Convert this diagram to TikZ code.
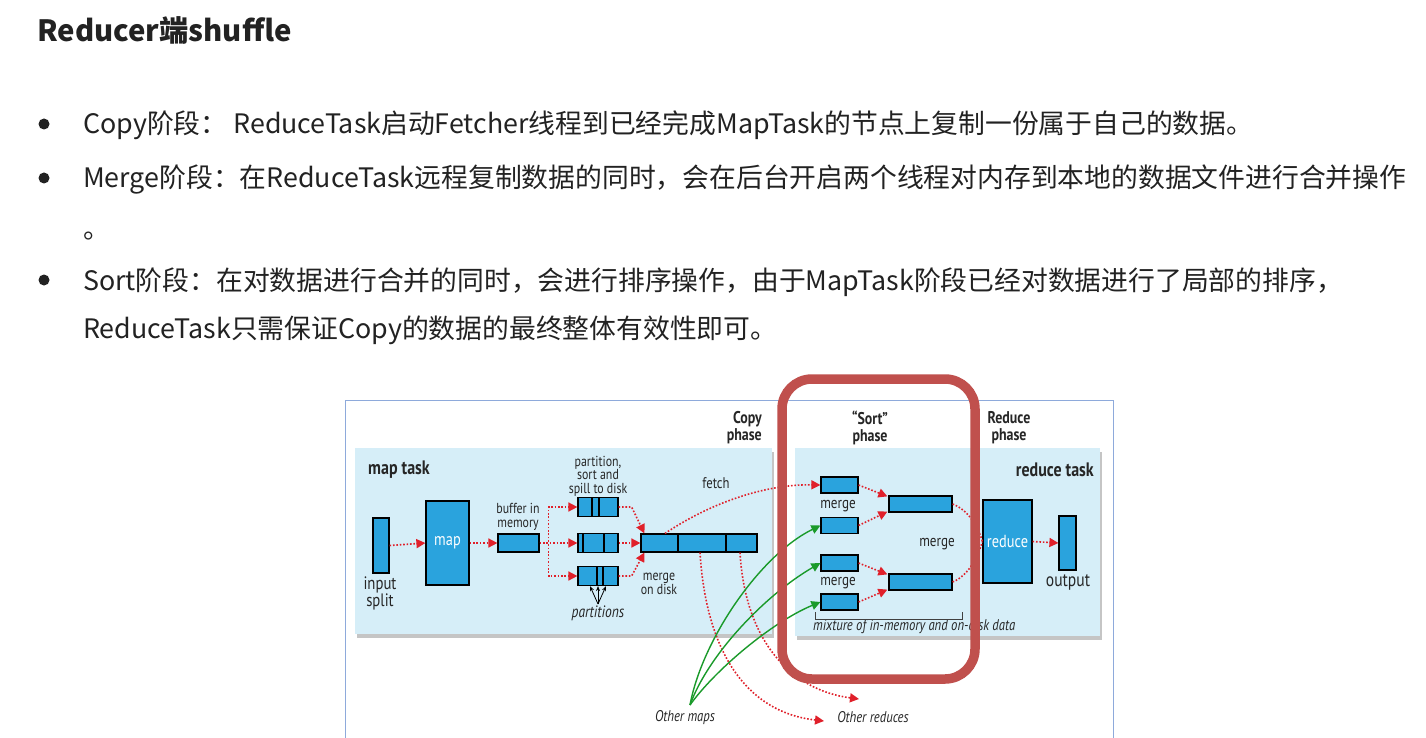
\documentclass[tikz,border=0pt]{standalone}
\usepackage{fontspec}
\usetikzlibrary{arrows.meta,shadows}
\newfontfamily\cjk{Noto Sans CJK SC}
\newfontfamily\dfont{PT Sans}[FakeStretch=0.82]
\definecolor{panel}{HTML}{D6EEF8}
\definecolor{boxc}{HTML}{2AA3DD}
\definecolor{arr}{HTML}{E0202A}
\definecolor{grn}{HTML}{1A9A2A}
\definecolor{hl}{HTML}{C0504D}
\definecolor{frame}{HTML}{8EAADB}
\definecolor{txt}{HTML}{222222}
\definecolor{dtxt}{HTML}{262626}
\tikzset{
  body/.style={font=\cjk\fontsize{26.8}{30}\selectfont, text=txt, inner sep=0, anchor=base west},
  blk/.style={draw=black, line width=1.2pt, fill=boxc, inner sep=0},
  dlab/.style={font=\dfont\fontsize{14.5}{13.5}\selectfont, text=dtxt, align=center, inner sep=0},
  dbold/.style={font=\dfont\bfseries\fontsize{17}{17}\selectfont, text=dtxt, align=center, inner sep=0},
  dtask/.style={font=\dfont\bfseries\fontsize{19.5}{19}\selectfont, text=dtxt, inner sep=0},
  dital/.style={font=\dfont\itshape\fontsize{15.5}{12}\selectfont, text=dtxt, inner sep=0},
  wlab/.style={font=\dfont\fontsize{17.5}{17}\selectfont, text=white, inner sep=0},
  rdot/.style={draw=arr, line width=1.6pt, dash pattern=on 1.6pt off 1.8pt},
  rarr/.style={rdot, -{Triangle[length=9pt,width=9pt]}},
  garr/.style={draw=grn, line width=1.4pt, -{Triangle[length=9pt,width=9pt]}},
}
\begin{document}
\begin{tikzpicture}[x=1pt,y=-1pt]
\useasboundingbox (0,0) rectangle (1426,738);
\fill[white] (0,0) rectangle (1426,738);
% ---- text ----
\node[font=\cjk\bfseries\fontsize{29.3}{30}\selectfont, text=txt, inner sep=0, anchor=base west] (title) at (37,42) {Reducer端shuffle};
\fill[txt] (44,124) circle (5.5);
\fill[txt] (44,178) circle (5.5);
\fill[txt] (44,280) circle (5.5);
\node[body] (l1) at (83,134) {Copy阶段： ReduceTask启动Fetcher线程到已经完成MapTask的节点上复制一份属于自己的数据。};
\node[body] (l2) at (83,188) {Merge阶段：在ReduceTask远程复制数据的同时，会在后台开启两个线程对内存到本地的数据文件进行合并操作};
\node[body] (l2b) at (83,238) {。};
\node[body] (l3) at (83,290) {Sort阶段：在对数据进行合并的同时，会进行排序操作，由于MapTask阶段已经对数据进行了局部的排序，};
\node[body] (l4) at (83,338) {ReduceTask只需保证Copy的数据的最终整体有效性即可。};
% ---- diagram frame & panels ----
\draw[frame, line width=1pt] (345,745) -- (345,400) -- (1113,400) -- (1113,745);
\fill[panel, drop shadow={opacity=0.45, shadow xshift=1.5pt, shadow yshift=-3.5pt}] (355,448) rectangle (772,634);
\fill[panel, drop shadow={opacity=0.45, shadow xshift=1.5pt, shadow yshift=-3.5pt}] (795,448) rectangle (1100,636);
% phase titles
\node[dbold, align=right, anchor=east] (copyph) at (762,428) {Copy\\phase};
\node[dbold] (sortph) at (870,428) {“Sort”\\phase};
\node[dbold] (redph) at (1009,428) {Reduce\\phase};
\node[dtask, anchor=west] (maptask) at (368,470) {map task};
\node[dtask, anchor=east] (redtask) at (1094,470) {reduce task};
% boxes
\node[blk, minimum width=16, minimum height=55] (input) at (381,545.5) {};
\node[blk, minimum width=43, minimum height=84] (map) at (447.5,543) {};
\node[wlab] at (map) {map};
\node[blk, minimum width=41, minimum height=18] (buf) at (518.5,543) {};
\node[blk, minimum width=40, minimum height=19] (sp1) at (598,507) {};
\node[blk, minimum width=40, minimum height=19] (sp2) at (598,543) {};
\node[blk, minimum width=40, minimum height=19] (sp3) at (598,576) {};
\draw[line width=1.2pt] (592,497.5) -- (592,516.5) (599,497.5) -- (599,516.5);
\draw[line width=1.2pt] (583,533.5) -- (583,552.5) (604,533.5) -- (604,552.5);
\draw[line width=1.2pt] (597,566.5) -- (597,585.5) (603,566.5) -- (603,585.5);
\node[blk, minimum width=116, minimum height=18] (mg) at (699,543) {};
\draw[line width=1.2pt] (678,534) -- (678,552) (726,534) -- (726,552);
\node[blk, minimum width=37, minimum height=16] (s1) at (839.5,485) {};
\node[blk, minimum width=37, minimum height=16] (s2) at (839.5,525.5) {};
\node[blk, minimum width=37, minimum height=16] (s3) at (839.5,563) {};
\node[blk, minimum width=37, minimum height=16] (s4) at (839.5,602) {};
\node[blk, minimum width=63, minimum height=16] (m1) at (920.5,504) {};
\node[blk, minimum width=63, minimum height=16] (m2) at (920.5,582) {};
\node[blk, minimum width=49, minimum height=83] (red) at (1007.5,541.5) {};
\node[wlab] at (red) {reduce};
\node[blk, minimum width=17, minimum height=54] (out) at (1067.5,543) {};
% labels
\node[dlab, font=\dfont\fontsize{18}{17}\selectfont] (inlab) at (380,593) {input\\split};
\node[dlab] (buflab) at (518,517) {buffer in\\memory};
\node[dlab] (splab) at (598,476) {partition,\\sort and\\spill to disk};
\node[dlab] (mdlab) at (659,584) {merge\\on disk};
\node[dital, font=\dfont\itshape\fontsize{16.5}{12}\selectfont] (partlab) at (598,613) {partitions};
\node[dlab, font=\dfont\fontsize{15.5}{14}\selectfont] (fetch) at (716,483) {fetch};
\node[dlab, font=\dfont\fontsize{16}{12}\selectfont] (mg1) at (838,506) {merge};
\node[dlab, font=\dfont\fontsize{16}{12}\selectfont] (mg2) at (838,583) {merge};
\node[dlab, font=\dfont\fontsize{16}{12}\selectfont] (mg3) at (937,544) {merge};
\node[dlab, font=\dfont\fontsize{19}{16}\selectfont] (outlab) at (1068,582) {output};
\node[dital, anchor=west] (mix) at (813,627) {mixture of in-memory and on-disk data};
\node[dital] (omaps) at (685,718) {Other maps};
\node[dital] (ored) at (873,717) {Other reduces};
% partitions arrows
\coordinate (pt) at (598,604);
\draw[line width=0.8pt, -{Stealth[length=5pt,width=4pt]}] (pt) -- ([xshift=-8pt]sp3.south);
\draw[line width=0.8pt, -{Stealth[length=5pt,width=4pt]}] (pt) -- (sp3.south);
\draw[line width=0.8pt, -{Stealth[length=5pt,width=4pt]}] (pt) -- ([xshift=8pt]sp3.south);
% bracket
\draw[line width=0.8pt, black!75] (815,612) -- (815,619) -- (962,619) -- (962,612);
% red arrows
\draw[rarr] (input.east) -- (map.west);
\draw[rarr] (map.east) -- (buf.west);
\draw[rarr] (buf.east) -- ++(9,0) |- (sp1.west);
\draw[rarr] (buf.east) -- (sp2.west);
\draw[rarr] (buf.east) -- ++(9,0) |- (sp3.west);
\draw[rarr] (sp1.east) -- ++(13,0) -- ([xshift=4pt]mg.north west);
\draw[rarr] (sp2.east) -- (mg.west);
\draw[rarr] (sp3.east) -- ++(13,0) -- ([xshift=4pt]mg.south west);
\draw[rarr] ([xshift=-34pt]mg.north) .. controls (715,500) and (770,484) .. (s1.west);
\coordinate (or1) at (824,721);
\coordinate (or2) at (859,699);
\draw[rarr] ([xshift=1pt]mg.south) .. controls (706,650) and (745,712) .. (or1);
\draw[rarr] ([xshift=41pt]mg.south) .. controls (745,640) and (790,690) .. (or2);
\draw[rarr] (s1.east) -- ([xshift=-1pt,yshift=-1pt]m1.north west);
\draw[rarr] (s2.east) -- ([xshift=-1pt,yshift=1pt]m1.south west);
\draw[rarr] (s3.east) -- ([xshift=-1pt,yshift=-1pt]m2.north west);
\draw[rarr] (s4.east) -- ([xshift=-1pt,yshift=1pt]m2.south west);
\draw[rdot] (m1.east) .. controls (968,510) and (978,526) .. (red.west);
\draw[rdot] (m2.east) .. controls (968,576) and (978,557) .. (red.west);
\draw[rarr] (red.east) -- (out.west);
% green arrows
\coordinate (om) at (690,705);
\draw[garr] (om) .. controls (702,640) and (760,555) .. (s2.west);
\draw[garr] (om) .. controls (708,655) and (765,595) .. (s3.west);
\draw[garr] (om) .. controls (715,670) and (772,622) .. (s4.west);
% highlight
\draw[hl, line width=9.5pt, rounded corners=30pt] (782,379) rectangle (975,679);
\end{tikzpicture}
\end{document}
